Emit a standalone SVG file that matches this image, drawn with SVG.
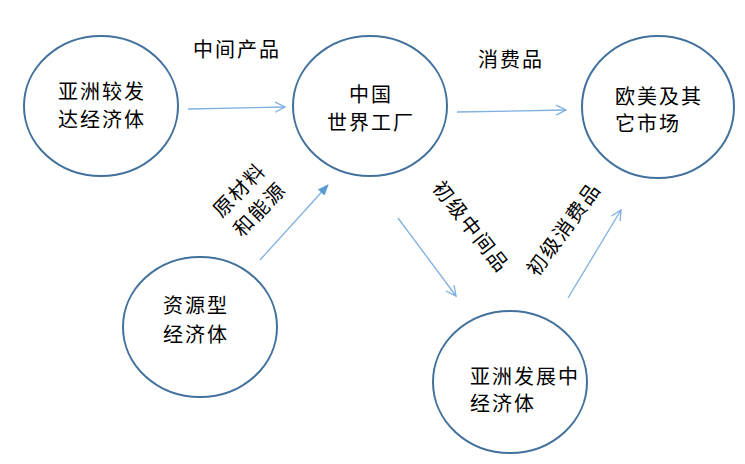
<svg xmlns="http://www.w3.org/2000/svg" width="745" height="464" viewBox="0 0 745 464">
<defs>
<style>
.node{fill:#fff;stroke:#41719c;stroke-width:2}
.t{font-family:"Noto Sans CJK SC","Noto Sans",sans-serif;font-size:20px;fill:#000;letter-spacing:2px}
.c{text-anchor:middle}
.edge{stroke:#7eb0e0;stroke-width:1.3;fill:none}
</style>
<marker id="open" viewBox="0 0 12 12" refX="11" refY="6" markerWidth="12" markerHeight="12" markerUnits="userSpaceOnUse" orient="auto">
<path d="M1,1 L11,6 L1,11" fill="none" stroke="#7eb0e0" stroke-width="1.3"/>
</marker>
<marker id="fill" viewBox="0 0 12 12" refX="11" refY="6" markerWidth="11" markerHeight="11" markerUnits="userSpaceOnUse" orient="auto">
<path d="M0,1 L12,6 L0,11 Z" fill="#5b9bd5"/>
</marker>
</defs>
<rect width="745" height="464" fill="#fff"/>
<g id="connectors">
<line class="edge" x1="188" y1="109" x2="285" y2="107" marker-end="url(#open)"/>
<line class="edge" x1="457" y1="112" x2="566" y2="110" marker-end="url(#open)"/>
<line class="edge" x1="260" y1="260" x2="328" y2="185" stroke="#5b9bd5" marker-end="url(#fill)"/>
<line class="edge" x1="398" y1="218" x2="456" y2="296" marker-end="url(#open)"/>
<line class="edge" x1="568" y1="298" x2="621" y2="210" marker-end="url(#open)"/>
</g>
<g id="n1">
<ellipse class="node" cx="101" cy="106" rx="77" ry="70"/>
<text class="t c" x="102" y="99">亚洲较发</text>
<text class="t c" x="102" y="127">达经济体</text>
</g>
<g id="n2">
<ellipse class="node" cx="370" cy="106" rx="77" ry="70"/>
<text class="t c" x="371" y="102">中国</text>
<text class="t c" x="371" y="130">世界工厂</text>
</g>
<g id="n3">
<ellipse class="node" cx="658" cy="107" rx="76" ry="71"/>
<text class="t c" x="659" y="104">欧美及其</text>
<text class="t c" x="648" y="131">它市场</text>
</g>
<g id="n4">
<ellipse class="node" cx="200" cy="327" rx="77" ry="70"/>
<text class="t" x="163" y="313">资源型</text>
<text class="t" x="163" y="342">经济体</text>
</g>
<g id="n5">
<ellipse class="node" cx="510" cy="382" rx="77" ry="71"/>
<text class="t" x="470" y="384">亚洲发展中</text>
<text class="t" x="470" y="411">经济体</text>
</g>
<g id="labels">
<text class="t" x="193" y="57">中间产品</text>
<text class="t" x="478" y="67">消费品</text>
<text class="t c" transform="translate(249,199) rotate(-46)" x="0" y="-6">原材料</text>
<text class="t c" transform="translate(249,199) rotate(-46)" x="0" y="22">和能源</text>
<text class="t c" transform="translate(471,227) rotate(52)" x="0" y="7">初级中间品</text>
<text class="t c" transform="translate(564,229) rotate(-54)" x="0" y="7">初级消费品</text>
</g>
</svg>
